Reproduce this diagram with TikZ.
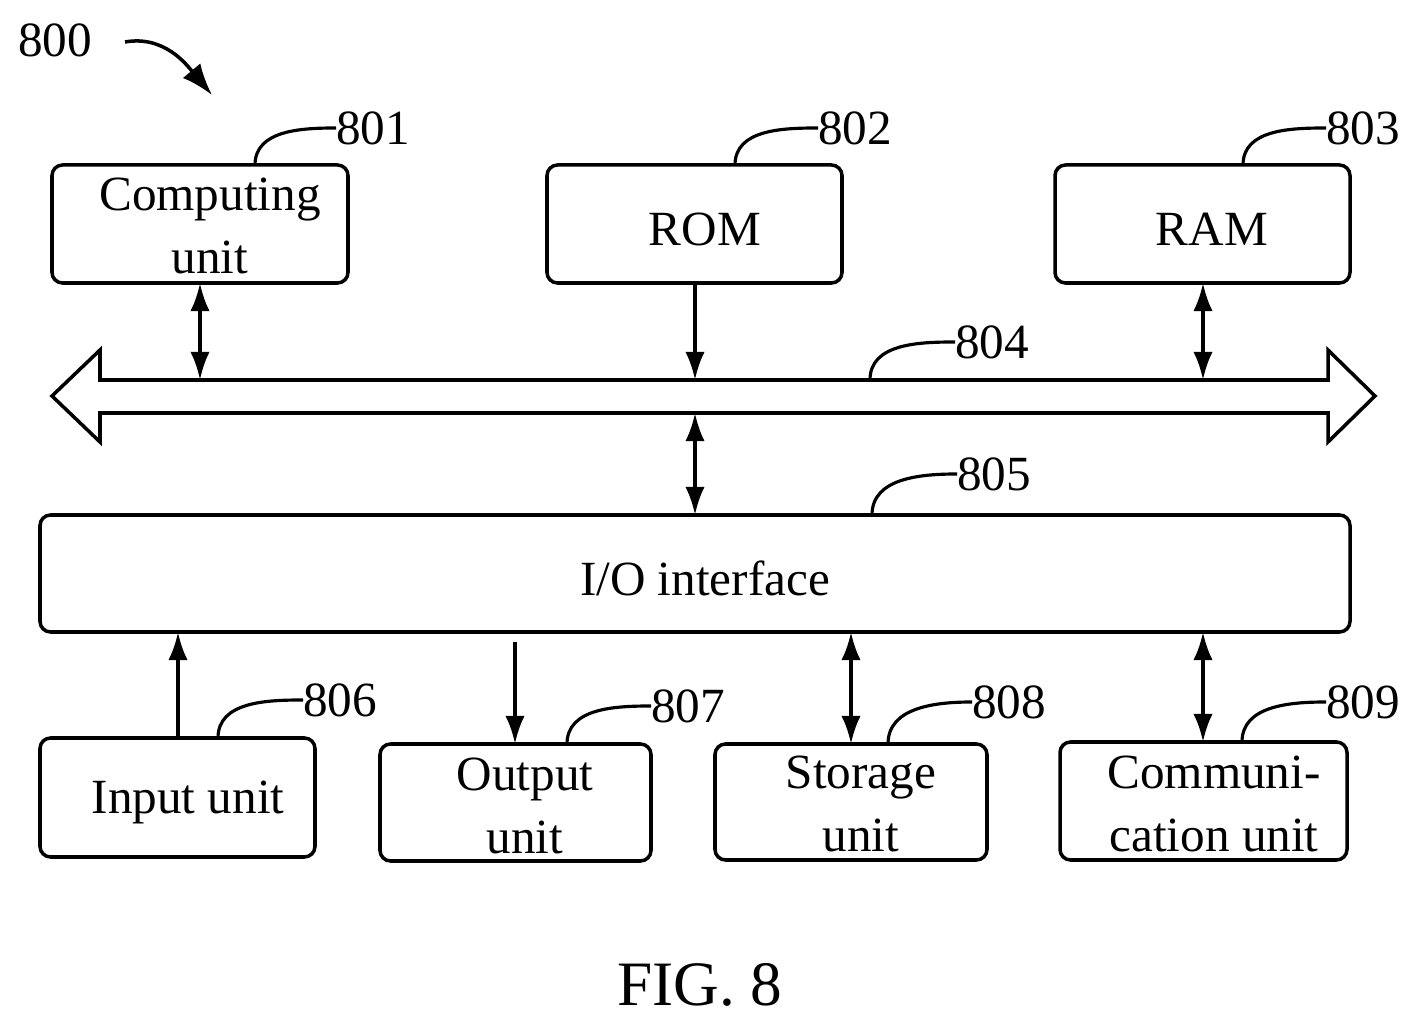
\documentclass[tikz,border=0pt]{standalone}
\usepackage{fontspec}
\setmainfont{Liberation Serif}
\usetikzlibrary{arrows.meta}
\tikzset{
  box/.style={draw,line width=2pt,rounded corners=6pt},
  txt/.style={align=center,inner sep=0pt},
  lead/.style={line width=1.8pt},
  conn/.style={line width=2pt,-{Latex[length=16pt,width=11pt]}},
  dconn/.style={line width=2pt,{Latex[length=16pt,width=11pt]}-{Latex[length=16pt,width=11pt]}},
  num/.style={anchor=west,inner sep=0pt}
}
\begin{document}
\begin{tikzpicture}[x=0.02cm,y=-0.02cm,font=\fontsize{28}{36}\selectfont]
    \useasboundingbox (0,0) rectangle (1418,1026);

    % figure number
    \node[num] (n800) at (18,40) {800};
    \draw[line width=2pt,-{Latex[length=18pt,width=13pt]}] (125,42) to[out=10,in=130] (212,95);

    % top boxes
    \draw[box] (52,165) rectangle (348,283);
    \node[txt] (cut) at (210,226) {Computing\\unit};
    \draw[box] (547,165) rectangle (842,283);
    \node[txt] (rom) at (705,229) {ROM};
    \draw[box] (1055,165) rectangle (1350,283);
    \node[txt] (ram) at (1212,229) {RAM};
    \coordinate (cub) at (200,283);
    \coordinate (romb) at (695,283);
    \coordinate (ramb) at (1203,283);

    % bus
    \draw[line width=2pt,fill=white] (52,396) -- (100,350) -- (100,380) -- (1328,380) -- (1328,350)
        -- (1375,396) -- (1328,442) -- (1328,413) -- (100,413) -- (100,442) -- cycle;
    \coordinate (bust1) at (200,380);
    \coordinate (bust2) at (695,380);
    \coordinate (bust3) at (1203,380);
    \coordinate (busb) at (695,413);

    % io interface
    \draw[box] (40,515) rectangle (1350,632);
    \node[txt] (io) at (705,578) {I/O interface};
    \coordinate (iot) at (695,515);

    % bottom boxes
    \draw[box] (40,738) rectangle (315,857);
    \node[txt] (in) at (188,802) {Input unit};
    \draw[box] (380,744) rectangle (651,861);
    \node[txt] (out) at (525,806) {Output\\unit};
    \draw[box] (715,744) rectangle (987,860);
    \node[txt] (sto) at (861,804) {Storage\\unit};
    \draw[box] (1060,742) rectangle (1347,860);
    \node[txt] (com) at (1214,804) {Communi-\\cation unit};

    % connectors
    \draw[dconn] (cub) -- (bust1);
    \draw[conn] (romb) -- (bust2);
    \draw[dconn] (ramb) -- (bust3);
    \draw[dconn] (busb) -- (iot);
    \draw[conn] (178,738) -- (178,632);
    \draw[conn] (515,642) -- (515,744);
    \draw[dconn] (851,632) -- (851,744);
    \draw[dconn] (1203,632) -- (1203,742);

    % reference numerals
    \node[num] (n801) at (336,128) {801};
    \draw[lead] (255,165) to[out=90,in=180] (n801.west);
    \node[num] (n802) at (818,128) {802};
    \draw[lead] (735,165) to[out=90,in=180] (n802.west);
    \node[num] (n803) at (1326,128) {803};
    \draw[lead] (1243,165) to[out=90,in=180] (n803.west);
    \node[num] (n804) at (955,342) {804};
    \draw[lead] (870,380) to[out=90,in=180] (n804.west);
    \node[num] (n805) at (957,474) {805};
    \draw[lead] (872,515) to[out=90,in=180] (n805.west);
    \node[num] (n806) at (303,700) {806};
    \draw[lead] (218,738) to[out=90,in=180] (n806.west);
    \node[num] (n807) at (651,706) {807};
    \draw[lead] (567,744) to[out=90,in=180] (n807.west);
    \node[num] (n808) at (972,702) {808};
    \draw[lead] (888,744) to[out=90,in=180] (n808.west);
    \node[num] (n809) at (1326,702) {809};
    \draw[lead] (1242,742) to[out=90,in=180] (n809.west);

    % caption
    \node[font=\fontsize{36}{42}\selectfont] (fig) at (700,985) {FIG. 8};
\end{tikzpicture}
\end{document}
